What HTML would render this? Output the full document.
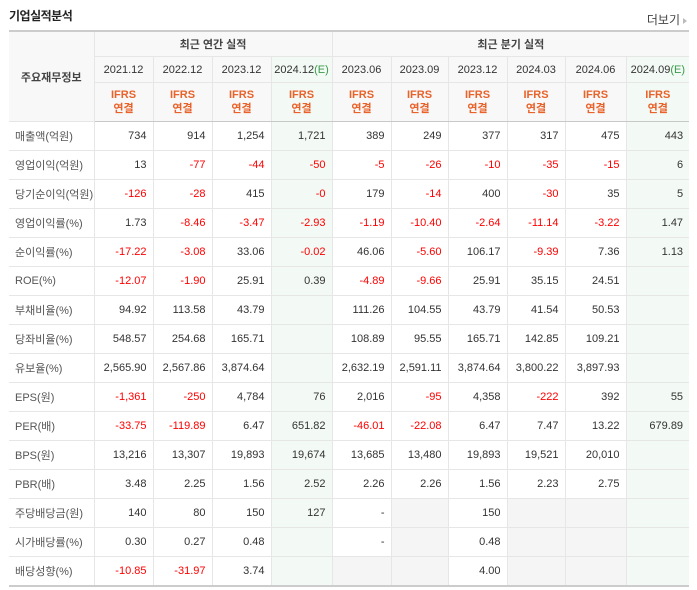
<!DOCTYPE html>
<html><head><meta charset="utf-8">
<style>
body{margin:0;width:697px;height:590px;background:#fff;font-family:"Liberation Sans","Noto Sans CJK KR",sans-serif;position:relative;overflow:hidden}
.title{position:absolute;left:9px;top:7px;font-size:12px;font-weight:bold;color:#222;letter-spacing:-0.5px}
.more{position:absolute;right:10px;top:11px;font-size:12px;color:#444}
.more:after{content:"";display:inline-block;border-left:4px solid #bbb;border-top:3px solid transparent;border-bottom:3px solid transparent;margin-left:3px}
table{position:absolute;left:9px;top:30px;border-collapse:collapse;table-layout:fixed;width:680px;font-size:11px;color:#333}
td,th{border:1px solid #e6e6e6;padding:0 6px 0 0;text-align:right;height:28px;white-space:nowrap;overflow:hidden}
thead th{background:#f8f8f8;text-align:center;font-weight:normal;padding:0}
thead tr.h1 th{height:24px;font-weight:bold;color:#444}
thead tr.h2 th{height:25px}
thead tr.h3 th{height:38px;color:#e8622a;font-weight:bold;line-height:14px}
table{border-top:2px solid #ccc;border-bottom:2px solid #ccc}
td.l,th.l{text-align:left;padding-left:6px;color:#555}
th.l{text-align:center;padding:0}
.bl{border-left:1px solid #c8c8c8}
tr.g td{border-top:1px solid #c8c8c8}
thead tr.h3 th{border-bottom:1px solid #c8c8c8}
.n{color:#f00}
.e{background:#f3f9f4}
.x{background:#f5f5f5}
.E{color:#3a9a4a}
td:first-child,th:first-child{border-left:none}
td:last-child,th:last-child{border-right:none}
</style></head><body>
<div class="title">기업실적분석</div>
<div class="more">더보기</div>
<table>
<colgroup><col style="width:85px"><col style="width:59px"><col style="width:59px"><col style="width:59px"><col style="width:61px"><col style="width:59px"><col style="width:57px"><col style="width:59px"><col style="width:58px"><col style="width:61px"><col style="width:63px"></colgroup>
<thead>
<tr class="h1"><th class="l" rowspan="3">주요재무정보</th><th colspan="4" class="bl">최근 연간 실적</th><th colspan="6" class="bl">최근 분기 실적</th></tr>
<tr class="h2"><th class="bl">2021.12</th><th>2022.12</th><th>2023.12</th><th class="e">2024.12<span class="E">(E)</span></th><th class="bl">2023.06</th><th>2023.09</th><th>2023.12</th><th>2024.03</th><th>2024.06</th><th class="e">2024.09<span class="E">(E)</span></th></tr>
<tr class="h3"><th class="bl">IFRS<br>연결</th><th>IFRS<br>연결</th><th>IFRS<br>연결</th><th class="e">IFRS<br>연결</th><th class="bl">IFRS<br>연결</th><th>IFRS<br>연결</th><th>IFRS<br>연결</th><th>IFRS<br>연결</th><th>IFRS<br>연결</th><th class="e">IFRS<br>연결</th></tr>
</thead>
<tbody>
<tr><td class="l">매출액(억원)</td><td class="bl">734</td><td>914</td><td>1,254</td><td class="e">1,721</td><td class="bl">389</td><td>249</td><td>377</td><td>317</td><td>475</td><td class="e">443</td></tr>
<tr><td class="l">영업이익(억원)</td><td class="bl">13</td><td class="n">-77</td><td class="n">-44</td><td class="e n">-50</td><td class="bl n">-5</td><td class="n">-26</td><td class="n">-10</td><td class="n">-35</td><td class="n">-15</td><td class="e">6</td></tr>
<tr><td class="l">당기순이익(억원)</td><td class="bl n">-126</td><td class="n">-28</td><td>415</td><td class="e n">-0</td><td class="bl">179</td><td class="n">-14</td><td>400</td><td class="n">-30</td><td>35</td><td class="e">5</td></tr>
<tr class="g"><td class="l">영업이익률(%)</td><td class="bl">1.73</td><td class="n">-8.46</td><td class="n">-3.47</td><td class="e n">-2.93</td><td class="bl n">-1.19</td><td class="n">-10.40</td><td class="n">-2.64</td><td class="n">-11.14</td><td class="n">-3.22</td><td class="e">1.47</td></tr>
<tr><td class="l">순이익률(%)</td><td class="bl n">-17.22</td><td class="n">-3.08</td><td>33.06</td><td class="e n">-0.02</td><td class="bl">46.06</td><td class="n">-5.60</td><td>106.17</td><td class="n">-9.39</td><td>7.36</td><td class="e">1.13</td></tr>
<tr><td class="l">ROE(%)</td><td class="bl n">-12.07</td><td class="n">-1.90</td><td>25.91</td><td class="e">0.39</td><td class="bl n">-4.89</td><td class="n">-9.66</td><td>25.91</td><td>35.15</td><td>24.51</td><td class="e"></td></tr>
<tr class="g"><td class="l">부채비율(%)</td><td class="bl">94.92</td><td>113.58</td><td>43.79</td><td class="e"></td><td class="bl">111.26</td><td>104.55</td><td>43.79</td><td>41.54</td><td>50.53</td><td class="e"></td></tr>
<tr><td class="l">당좌비율(%)</td><td class="bl">548.57</td><td>254.68</td><td>165.71</td><td class="e"></td><td class="bl">108.89</td><td>95.55</td><td>165.71</td><td>142.85</td><td>109.21</td><td class="e"></td></tr>
<tr><td class="l">유보율(%)</td><td class="bl">2,565.90</td><td>2,567.86</td><td>3,874.64</td><td class="e"></td><td class="bl">2,632.19</td><td>2,591.11</td><td>3,874.64</td><td>3,800.22</td><td>3,897.93</td><td class="e"></td></tr>
<tr class="g"><td class="l">EPS(원)</td><td class="bl n">-1,361</td><td class="n">-250</td><td>4,784</td><td class="e">76</td><td class="bl">2,016</td><td class="n">-95</td><td>4,358</td><td class="n">-222</td><td>392</td><td class="e">55</td></tr>
<tr><td class="l">PER(배)</td><td class="bl n">-33.75</td><td class="n">-119.89</td><td>6.47</td><td class="e">651.82</td><td class="bl n">-46.01</td><td class="n">-22.08</td><td>6.47</td><td>7.47</td><td>13.22</td><td class="e">679.89</td></tr>
<tr><td class="l">BPS(원)</td><td class="bl">13,216</td><td>13,307</td><td>19,893</td><td class="e">19,674</td><td class="bl">13,685</td><td>13,480</td><td>19,893</td><td>19,521</td><td>20,010</td><td class="e"></td></tr>
<tr><td class="l">PBR(배)</td><td class="bl">3.48</td><td>2.25</td><td>1.56</td><td class="e">2.52</td><td class="bl">2.26</td><td>2.26</td><td>1.56</td><td>2.23</td><td>2.75</td><td class="e"></td></tr>
<tr class="g"><td class="l">주당배당금(원)</td><td class="bl">140</td><td>80</td><td>150</td><td class="e">127</td><td class="bl">-</td><td class="x"></td><td>150</td><td class="x"></td><td class="x"></td><td class="e"></td></tr>
<tr><td class="l">시가배당률(%)</td><td class="bl">0.30</td><td>0.27</td><td>0.48</td><td class="e"></td><td class="bl">-</td><td class="x"></td><td>0.48</td><td class="x"></td><td class="x"></td><td class="e"></td></tr>
<tr><td class="l">배당성향(%)</td><td class="bl n">-10.85</td><td class="n">-31.97</td><td>3.74</td><td class="e"></td><td class="bl x"></td><td class="x"></td><td>4.00</td><td class="x"></td><td class="x"></td><td class="e"></td></tr>
</tbody></table>
</body></html>
